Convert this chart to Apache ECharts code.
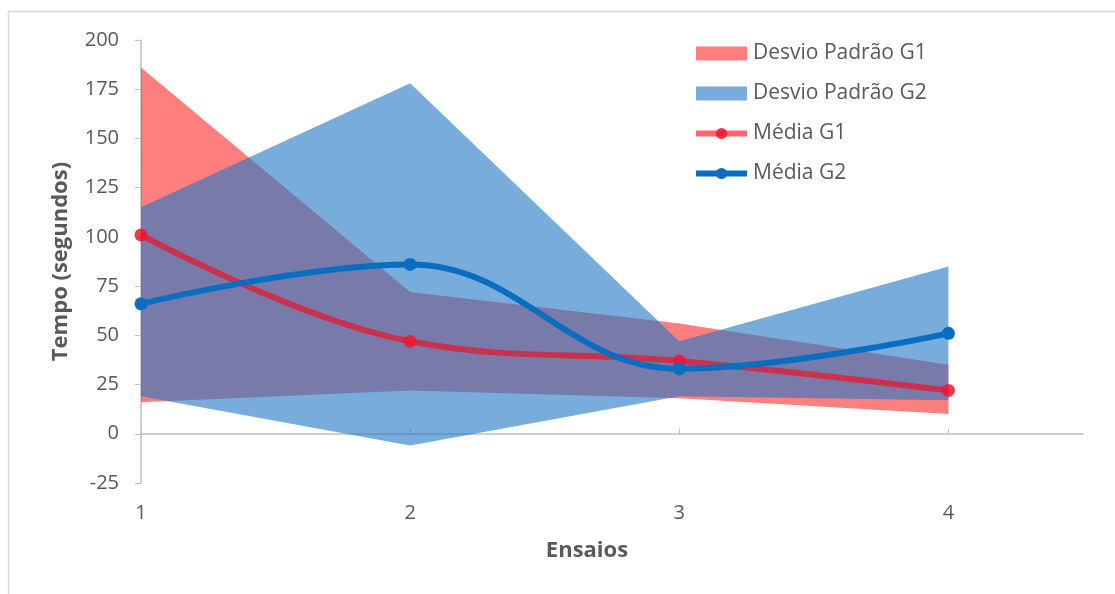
<!DOCTYPE html>
<html>
<head>
<meta charset="utf-8">
<script src="https://cdn.jsdelivr.net/npm/echarts@6/dist/echarts.min.js"></script>
<style>
  html, body { margin: 0; padding: 0; background: #fff; }
  #chart { width: 1115px; height: 594px; }
</style>
</head>
<body>
<div id="chart"></div>
<script>
// Ensaios (trials) on the x axis
const ensaios = [1, 2, 3, 4];
const xTicks = [1, 2, 3, 4];

// Mean time per trial (seconds)
const mediaG1 = [101, 47, 37, 22];
const mediaG2 = [66, 86, 33, 51];

// Standard deviation bands: lower and upper limits (seconds)
const g1Inferior = [16, 22, 18, 10];
const g1Superior = [186, 72, 56, 35];
const g2Inferior = [19, -6, 19, 17];
const g2Superior = [115, 178, 47, 85];

const TEXT = '#595959';
const AXIS = '#BFBFBF';
const FONT = '"Open Sans", Lato, sans-serif';

function band(name, lower, upper, fill) {
  return {
    type: 'custom',
    name: name,
    coordinateSystem: 'cartesian2d',
    xAxisIndex: 0,
    yAxisIndex: 0,
    itemStyle: { color: fill },
    data: ensaios.map((x, i) => [x, lower[i], upper[i]]),
    encode: { x: 0, y: [1, 2] },
    renderItem: function (params, api) {
      if (params.dataIndex !== 0) return;
      const pts = [];
      for (let i = 0; i < ensaios.length; i++) pts.push(api.coord([ensaios[i], upper[i]]));
      for (let i = ensaios.length - 1; i >= 0; i--) pts.push(api.coord([ensaios[i], lower[i]]));
      return { type: 'polygon', shape: { points: pts }, style: { fill: fill } };
    },
    silent: true
  };
}

function media(name, values, lineColor, dotColor) {
  return {
    type: 'line',
    name: name,
    xAxisIndex: 0,
    yAxisIndex: 0,
    data: ensaios.map((x, i) => [x, values[i]]),
    smooth: 0.4,
    symbol: 'circle',
    symbolSize: 13,
    showAllSymbol: true,
    lineStyle: { width: 6, color: lineColor },
    itemStyle: { color: dotColor },
    z: 3
  };
}

const chart = echarts.init(document.getElementById('chart'), null, { renderer: 'canvas' });

chart.setOption({
  animation: false,
  backgroundColor: '#fff',
  textStyle: { fontFamily: FONT },
  grid: { left: 141, right: 32, top: 40, bottom: 111, containLabel: false },
  legend: {
    orient: 'vertical',
    left: 688,
    top: 38,
    itemWidth: 51,
    itemHeight: 14,
    itemGap: 19,
    textStyle: { color: TEXT, fontSize: 21, fontFamily: FONT, padding: [0, 0, 0, 1] },
    data: [
      { name: 'Desvio Padrão G1', icon: 'rect' },
      { name: 'Desvio Padrão G2', icon: 'rect' },
      { name: 'Média G1', lineStyle: { width: 6 } },
      { name: 'Média G2', lineStyle: { width: 6 } }
    ]
  },
  xAxis: [
    {
      type: 'value',
      min: 1,
      max: 4.5,
      interval: 1,
      axisLine: { show: true, onZero: true, lineStyle: { color: AXIS, width: 1.5 } },
      axisTick: { show: true, inside: true, length: 5, customValues: xTicks, lineStyle: { color: AXIS } },
      axisLabel: { show: false },
      splitLine: { show: false }
    },
    {
      type: 'value',
      position: 'bottom',
      min: 1,
      max: 4.5,
      interval: 1,
      axisLine: { show: false, onZero: false },
      axisTick: { show: false },
      axisLabel: {
        show: true, customValues: xTicks, margin: 20,
        color: TEXT, fontSize: 20, fontFamily: FONT
      },
      splitLine: { show: false }
    }
  ],
  yAxis: {
    type: 'value',
    min: -25,
    max: 200,
    interval: 25,
    name: 'Tempo (segundos)',
    nameLocation: 'middle',
    nameGap: 69,
    nameTextStyle: { color: TEXT, fontSize: 22, fontWeight: 'bold', fontFamily: FONT },
    axisLine: { show: true, onZero: false, lineStyle: { color: AXIS, width: 1.5 } },
    axisTick: { show: true, length: 6, lineStyle: { color: AXIS } },
    axisLabel: { color: TEXT, fontSize: 20, margin: 22, fontFamily: FONT },
    splitLine: { show: false }
  },
  graphic: [
    {
      type: 'rect',
      silent: true,
      shape: { x: 8.5, y: 11.5, width: 1300, height: 800 },
      style: { fill: 'none', stroke: '#D9D9D9', lineWidth: 1.5 }
    },
    {
      type: 'text',
      x: 587,
      y: 551,
      style: {
        text: 'Ensaios', fill: TEXT, font: 'bold 22px ' + FONT,
        align: 'center', verticalAlign: 'middle'
      }
    }
  ],
  series: [
    band('Desvio Padrão G1', g1Inferior, g1Superior, 'rgba(255,0,0,0.5)'),
    band('Desvio Padrão G2', g2Inferior, g2Superior, 'rgba(37,121,195,0.62)'),
    media('Média G1', mediaG1, 'rgba(255,0,20,0.6)', 'rgba(245,20,45,0.85)'),
    media('Média G2', mediaG2, '#0A6EC0', '#0A6EC0')
  ]
});
</script>
</body>
</html>
